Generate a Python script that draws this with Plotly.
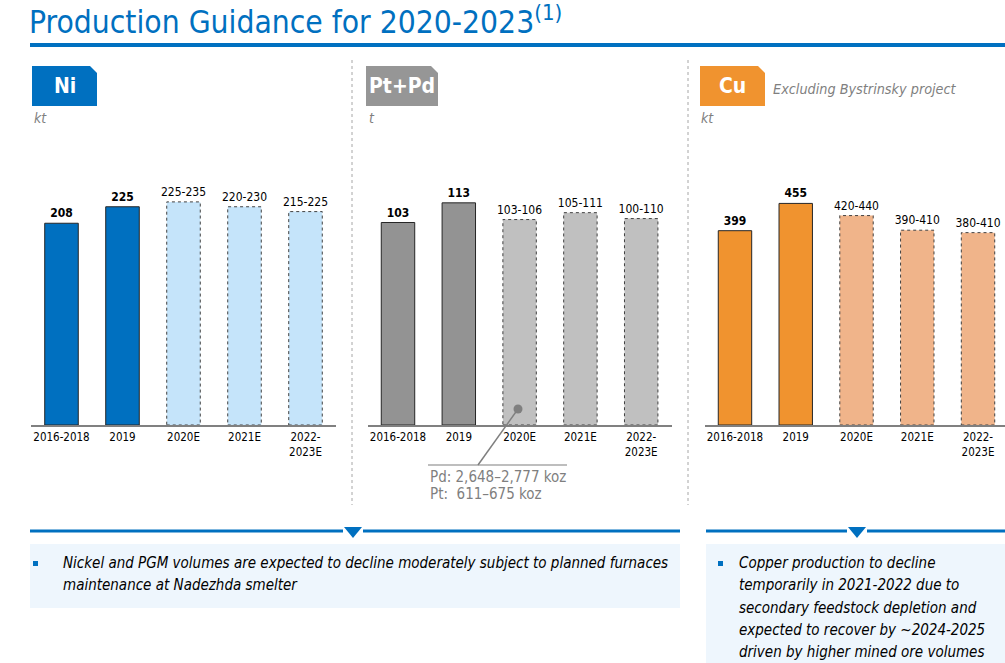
import plotly.graph_objects as go

W, H = 1005, 663

# ---------------- data ----------------
categories = ["2016-2018", "2019", "2020E", "2021E", "2022-2023E"]
tick_labels = ["2016-2018", "2019", "2020E", "2021E", "2022-<br>2023E"]
is_estimate = [False, False, True, True, True]

ni_values = [208, 225, 230, 225, 220]
ni_labels = ["208", "225", "225-235", "220-230", "215-225"]

pgm_values = [103, 113, 104.5, 108, 105]
pgm_labels = ["103", "113", "103-106", "105-111", "100-110"]

cu_values = [399, 455, 430, 400, 395]
cu_labels = ["399", "455", "420-440", "390-410", "380-410"]

pgm_note = ["Pd: 2,648–2,777 koz", "Pt:  611–675 koz"]
left_note = ["Nickel and PGM volumes are expected to decline moderately subject to planned furnaces",
             "maintenance at Nadezhda smelter"]
right_note = ["Copper production to decline", "temporarily in 2021-2022 due to",
              "secondary feedstock depletion and", "expected to recover by ~2024-2025",
              "driven by higher mined ore volumes"]

FONT = "'DejaVu Sans Condensed', 'Liberation Sans', sans-serif"
BLUE = "#0070C0"
GREY_TXT = "#7F7F7F"


def px(x):
    return x / W


def py(y):
    return 1 - y / H


panels = [
    dict(values=ni_values, labels=ni_labels, actual="#0070C0", est="#C5E4FA",
         xdom=(31, 336), xrng=(-0.5, 4.5), ymax=295 / 0.97),
    dict(values=pgm_values, labels=pgm_labels, actual="#939393", est="#C0C0C0",
         xdom=(367.6, 671.6), xrng=(-0.5, 4.5), ymax=295 / 1.966),
    dict(values=cu_values, labels=cu_labels, actual="#F0932F", est="#F0B48A",
         xdom=(704.6, 1005), xrng=(-0.5, 4.5 - 3.4 / 60.75), ymax=295 / 0.487),
]

BASE_Y = 425
TOP_Y = 130
BAR_W = 0.55

fig = go.Figure()
shapes = []
layout_axes = {}
xpos = list(range(len(categories)))

for i, p in enumerate(panels):
    sfx = "" if i == 0 else str(i + 1)
    xa, ya = "x" + sfx, "y" + sfx
    colors = [p["est"] if e else p["actual"] for e in is_estimate]
    lw = [0 if e else 1 for e in is_estimate]
    texts = [lab if e else "<b>" + lab + "</b>" for lab, e in zip(p["labels"], is_estimate)]
    fig.add_trace(go.Bar(
        x=xpos, y=p["values"], width=BAR_W, xaxis=xa, yaxis=ya,
        marker=dict(color=colors, line=dict(color="#262626", width=lw)),
        text=texts, textposition="outside", cliponaxis=False, constraintext="none",
        textfont=dict(family=FONT, size=12, color="#000000"),
        hoverinfo="skip", showlegend=False,
    ))
    for j, (v, e) in enumerate(zip(p["values"], is_estimate)):
        if e:
            shapes.append(dict(type="rect", xref=xa, yref=ya,
                               x0=xpos[j] - BAR_W / 2, x1=xpos[j] + BAR_W / 2, y0=0, y1=v,
                               line=dict(color="#404040", width=1, dash="dot")))
    layout_axes["xaxis" + sfx] = dict(
        domain=[px(p["xdom"][0]), px(p["xdom"][1])], range=list(p["xrng"]),
        anchor=ya, tickmode="array", tickvals=xpos, ticktext=tick_labels,
        showline=True, linecolor="#808080", linewidth=2, ticks="", showgrid=False,
        zeroline=False, fixedrange=True,
        tickfont=dict(family=FONT, size=11.5, color="#000000"))
    layout_axes["yaxis" + sfx] = dict(
        domain=[py(BASE_Y), py(TOP_Y)], range=[0, p["ymax"]], anchor=xa,
        visible=False, fixedrange=True)

annotations = []


def text(x, y, s, size=12, color="#000", xanchor="left", yanchor="middle", **kw):
    annotations.append(dict(x=px(x), y=py(y), xref="paper", yref="paper", text=s,
                            showarrow=False, xanchor=xanchor, yanchor=yanchor,
                            font=dict(family=FONT, size=size, color=color), **kw))


# Title
text(27, 20, "Production Guidance for 2020-2023<sup>(1)</sup>", size=31.5, color=BLUE)
shapes.append(dict(type="line", xref="paper", yref="paper", x0=px(30), x1=px(1005),
                   y0=py(45), y1=py(45), line=dict(color=BLUE, width=4)))

# separators
for sx in (352, 688):
    shapes.append(dict(type="line", xref="paper", yref="paper", x0=px(sx), x1=px(sx),
                       y0=py(60), y1=py(505), line=dict(color="#A6A6A6", width=1, dash="dot")))


# badges
def badge(x0, x1, color, label):
    y0, y1, c = 66, 106, 7
    path = (f"M {px(x0)},{py(y0)} L {px(x1 - c)},{py(y0)} L {px(x1)},{py(y0 + c)} "
            f"L {px(x1)},{py(y1)} L {px(x0)},{py(y1)} Z")
    shapes.append(dict(type="path", xref="paper", yref="paper", path=path,
                       fillcolor=color, line=dict(width=0)))
    text((x0 + x1) / 2, 86, "<b>" + label + "</b>", size=21, color="#FFFFFF", xanchor="center")


badge(32, 97, BLUE, "Ni")
badge(366, 438, "#969696", "Pt+Pd")
badge(700, 765, "#F0932F", "Cu")

text(32, 118, "<i>kt</i>", size=14, color=GREY_TXT)
text(367, 118, "<i>t</i>", size=14, color=GREY_TXT)
text(699, 118, "<i>kt</i>", size=14, color=GREY_TXT)
text(771, 89, "<i>Excluding Bystrinsky project</i>", size=14.3, color=GREY_TXT)

# PGM note
shapes.append(dict(type="line", xref="paper", yref="paper", x0=px(518), y0=py(409),
                   x1=px(478), y1=py(465), line=dict(color=GREY_TXT, width=1.5)))
shapes.append(dict(type="line", xref="paper", yref="paper", x0=px(428), y0=py(465),
                   x1=px(567), y1=py(465), line=dict(color=GREY_TXT, width=1.2)))
shapes.append(dict(type="circle", xref="paper", yref="paper", x0=px(513.5), x1=px(522.5),
                   y0=py(404.5), y1=py(413.5), fillcolor=GREY_TXT, line=dict(width=0)))
for k, s in enumerate(pgm_note):
    text(428, 477 + 17 * k, s, size=15, color=GREY_TXT)


# bottom boxes
def divider(x0, x1, tx):
    shapes.append(dict(type="line", xref="paper", yref="paper", x0=px(x0), x1=px(tx - 10),
                       y0=py(531), y1=py(531), line=dict(color=BLUE, width=3)))
    shapes.append(dict(type="line", xref="paper", yref="paper", x0=px(tx + 10), x1=px(x1),
                       y0=py(531), y1=py(531), line=dict(color=BLUE, width=3)))
    path = f"M {px(tx - 9)},{py(527)} L {px(tx + 9)},{py(527)} L {px(tx)},{py(538)} Z"
    shapes.append(dict(type="path", xref="paper", yref="paper", path=path,
                       fillcolor=BLUE, line=dict(width=0)))


divider(30, 680, 353)
divider(706, 1005, 857)
shapes.append(dict(type="rect", xref="paper", yref="paper", x0=px(30), x1=px(680),
                   y0=py(544), y1=py(608), fillcolor="#EEF6FD", line=dict(width=0), layer="below"))
shapes.append(dict(type="rect", xref="paper", yref="paper", x0=px(706), x1=px(1005),
                   y0=py(544), y1=py(663), fillcolor="#EEF6FD", line=dict(width=0), layer="below"))
for bx in (33, 718):
    shapes.append(dict(type="rect", xref="paper", yref="paper", x0=px(bx), x1=px(bx + 5),
                       y0=py(561), y1=py(566), fillcolor=BLUE, line=dict(width=0)))
for k, s in enumerate(left_note):
    text(61, 563 + 22 * k, "<i>" + s + "</i>", size=15, color="#000000")
for k, s in enumerate(right_note):
    text(737, 563 + 22.3 * k, "<i>" + s + "</i>", size=15, color="#000000")

fig.update_layout(
    width=W, height=H, margin=dict(l=0, r=0, t=0, b=0),
    paper_bgcolor="#FFFFFF", plot_bgcolor="rgba(0,0,0,0)",
    shapes=shapes, annotations=annotations, showlegend=False,
    font=dict(family=FONT), bargap=0.45,
    **layout_axes,
)

fig.write_html("out.html", config={"displayModeBar": False},
               post_script="document.body.style.margin='0';document.body.style.overflow='hidden';")
